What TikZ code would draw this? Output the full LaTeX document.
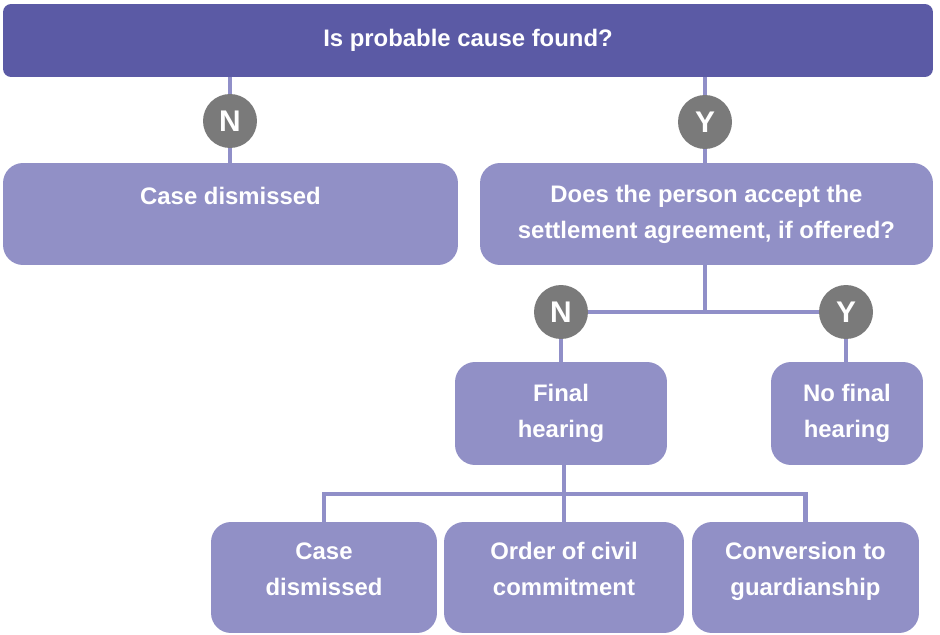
\documentclass[tikz,border=0pt]{standalone}
\usepackage{fontspec}
\setmainfont{Liberation Sans}
\definecolor{barpurple}{RGB}{91,90,165}
\definecolor{boxpurple}{RGB}{145,144,198}
\definecolor{linkpurple}{RGB}{144,143,200}
\definecolor{yngray}{RGB}{122,122,122}
\newcommand{\boxfont}{\fontsize{13.6}{20.5}\selectfont\bfseries}

\begin{document}
\begin{tikzpicture}[
  x=0.02cm,y=-0.02cm,
  topbar/.style={fill=barpurple,rounded corners=0.16cm,text=white,font=\boxfont,minimum width=18.6cm,minimum height=1.46cm,inner sep=0pt},
  box/.style={fill=boxpurple,rounded corners=0.4cm,text=white,font=\boxfont,align=center,inner sep=0pt},
  leaf/.style={box,minimum height=2.22cm,text depth=0.34cm},
  yn/.style={circle,fill=yngray,text=white,font=\fontsize{17}{20}\selectfont\bfseries,minimum size=1.08cm,inner sep=0pt},
  link/.style={draw=linkpurple,line width=2.8pt}
]
\useasboundingbox (0,0) rectangle (940,635);
\node[topbar] (cause) at (468,40.5) {Is probable cause found?};
\node[box,minimum width=9.1cm,minimum height=2.04cm] (dism) at (230.5,214) {Case dismissed\\[-5.7pt]\strut};
\node[box,minimum width=9.06cm,minimum height=2.04cm] (accept) at (706.5,214) {Does the person accept the\\settlement agreement, if offered?};
\node[box,minimum width=4.24cm,minimum height=2.06cm] (final) at (561,413.5) {Final\\hearing};
\node[box,minimum width=3.04cm,minimum height=2.06cm] (nofinal) at (847,413.5) {No final\\hearing};
\node[leaf,minimum width=4.52cm] (dism2) at (324,577.5) {Case\\dismissed};
\node[leaf,minimum width=4.8cm] (order) at (564,577.5) {Order of civil\\commitment};
\node[leaf,minimum width=4.54cm] (guard) at (805.5,577.5) {Conversion to\\guardianship};
\node[yn] (n1) at (230,121) {N};
\node[yn] (y1) at (705,122) {Y};
\node[yn] (n2) at (561,312) {N};
\node[yn] (y2) at (846,312) {Y};
\coordinate (split) at (705,311);
\coordinate (hub) at (564,494);
\draw[link] (n1) -- (n1 |- cause.south);
\draw[link] (n1) -- (n1 |- dism.north);
\draw[link] (y1) -- (y1 |- cause.south);
\draw[link] (y1) -- (y1 |- accept.north);
\draw[link] (accept.south -| split) -- (split);
\draw[link] (n2) -- (n2 -| y2.west);
\draw[link] (n2) -- (n2 |- final.north);
\draw[link] (y2) -- (y2 |- nofinal.north);
\draw[link] (final.south -| hub) -- (hub);
\draw[link] (dism2.north) -- (dism2.north |- hub) -- (guard.north |- hub) -- (guard.north);
\draw[link] (hub) -- (order.north -| hub);
\end{tikzpicture}
\end{document}
